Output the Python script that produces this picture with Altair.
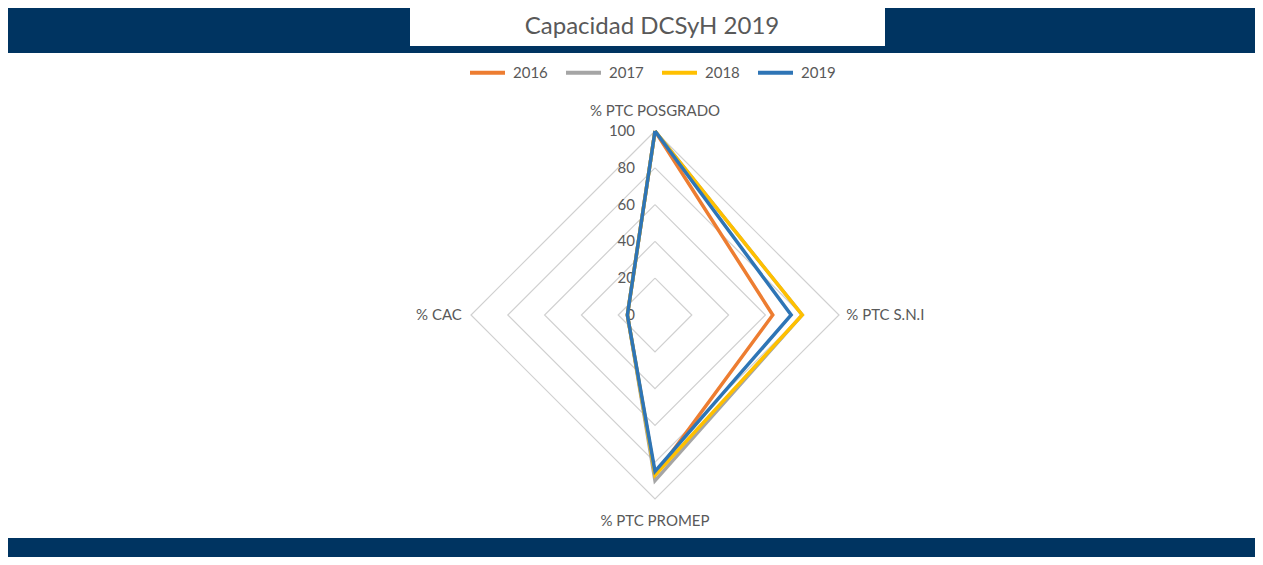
import altair as alt
import pandas as pd

# ---------------- data ----------------
axes = ["% PTC POSGRADO", "% PTC S.N.I", "% PTC PROMEP", "% CAC"]
years = ["2016", "2017", "2018", "2019"]
v2016 = [100, 64, 87, 15]
v2017 = [100, 80, 90, 15]
v2018 = [100, 80, 87, 15]
v2019 = [100, 74, 85, 15]
ticks = [0, 20, 40, 60, 80, 100]
colors = ["#ED7D31", "#A5A5A5", "#FFC000", "#2E75B6"]
title_text = "Capacidad DCSyH 2019"

series = {"2016": v2016, "2017": v2017, "2018": v2018, "2019": v2019}

# ---------------- layout constants ----------------
W, H = 1247, 549
CX, CY = 647, 307          # radar centre in chart pixels
PPU = 1.84                 # pixels per value unit
xdom = [-CX / PPU, (W - CX) / PPU]
ydom = [-(H - CY) / PPU, CY / PPU]
NAVY = "#003461"
GREY = "#595959"
FONT = "Lato"

# ---------------- tables ----------------
rows = []
for yi, yr in enumerate(years):
    vals = series[yr]
    for k in range(5):
        i = k % 4
        rows.append({"year": yr, "yorder": yi, "k": k, "idx": i, "value": vals[i]})
df = pd.DataFrame(rows)

grid_rows = []
for t in ticks[1:]:
    for k in range(5):
        grid_rows.append({"level": t, "k": k, "idx": k % 4, "value": t})
grid = pd.DataFrame(grid_rows)

tick_df = pd.DataFrame({"value": ticks, "idx": [0] * len(ticks)})
axis_df = pd.DataFrame({"axis": axes, "idx": list(range(4))})

polar = dict(
    px="datum.value * sin(datum.idx * PI / 2)",
    py="datum.value * cos(datum.idx * PI / 2)",
)

X = alt.X("px:Q", scale=alt.Scale(domain=xdom, nice=False, zero=False), axis=None)
Y = alt.Y("py:Q", scale=alt.Scale(domain=ydom, nice=False, zero=False), axis=None)

# ---------------- layers ----------------
bands = alt.Chart(pd.DataFrame({"band": ["top", "bottom"],
                                "y0": [-1, 530], "y1": [45, H + 5]})).mark_rect(
    color=NAVY
).encode(
    x=alt.value(0), x2=alt.value(W),
    y=alt.Y("y0:Q", scale=None), y2=alt.Y2("y1:Q"),
)

title_box = alt.Chart(pd.DataFrame({"t": [title_text]})).mark_rect(color="white").encode(
    x=alt.value(402), x2=alt.value(877), y=alt.value(-1), y2=alt.value(38)
)
title = alt.Chart(pd.DataFrame({"t": [title_text]})).mark_text(
    font=FONT, fontSize=24, color=GREY, align="center", baseline="middle"
).encode(text="t:N", x=alt.value(644), y=alt.value(19))

gridlines = alt.Chart(grid).transform_calculate(**polar).mark_line(
    color="#D0D0D0", strokeWidth=1.2
).encode(x=X, y=Y, detail="level:N", order="k:Q")

lines = alt.Chart(df).transform_calculate(**polar).mark_line(
    strokeWidth=3.5, strokeJoin="miter"
).encode(
    x=X, y=Y,
    color=alt.Color("year:N", scale=alt.Scale(domain=years, range=colors),
                    legend=alt.Legend(title=None, orient="none", direction="horizontal",
                                      legendX=460, legendY=45,
                                      symbolType="stroke", symbolSize=1225,
                                      symbolStrokeWidth=4, labelFontSize=15,
                                      labelColor=GREY, labelFont=FONT,
                                      columnPadding=10, labelOffset=6)),
    detail="year:N", order="k:Q",
)

tick_labels = alt.Chart(tick_df).transform_calculate(**polar).mark_text(
    font=FONT, fontSize=15, color=GREY, align="right", baseline="middle", dx=-20
).encode(x=X, y=Y, text="value:Q")

lab_specs = [
    (0, 111, "center"),
    (1, 104, "left"),
    (2, 112, "center"),
    (3, 105, "right"),
]
axis_layers = []
for idx, r, al in lab_specs:
    axis_layers.append(
        alt.Chart(axis_df).transform_filter(f"datum.idx == {idx}").transform_calculate(
            px=f"{r} * sin(datum.idx * PI / 2)", py=f"{r} * cos(datum.idx * PI / 2)"
        ).mark_text(font=FONT, fontSize=15, color=GREY, align=al, baseline="middle").encode(
            x=X, y=Y, text="axis:N"
        )
    )

chart = alt.layer(
    bands, title_box, title, gridlines, *axis_layers, tick_labels, lines
).properties(
    width=W, height=H, autosize="none", padding=0, background="white"
).configure_view(stroke=None)

chart.save("out.html", embed_options={"renderer": "svg", "actions": False})
